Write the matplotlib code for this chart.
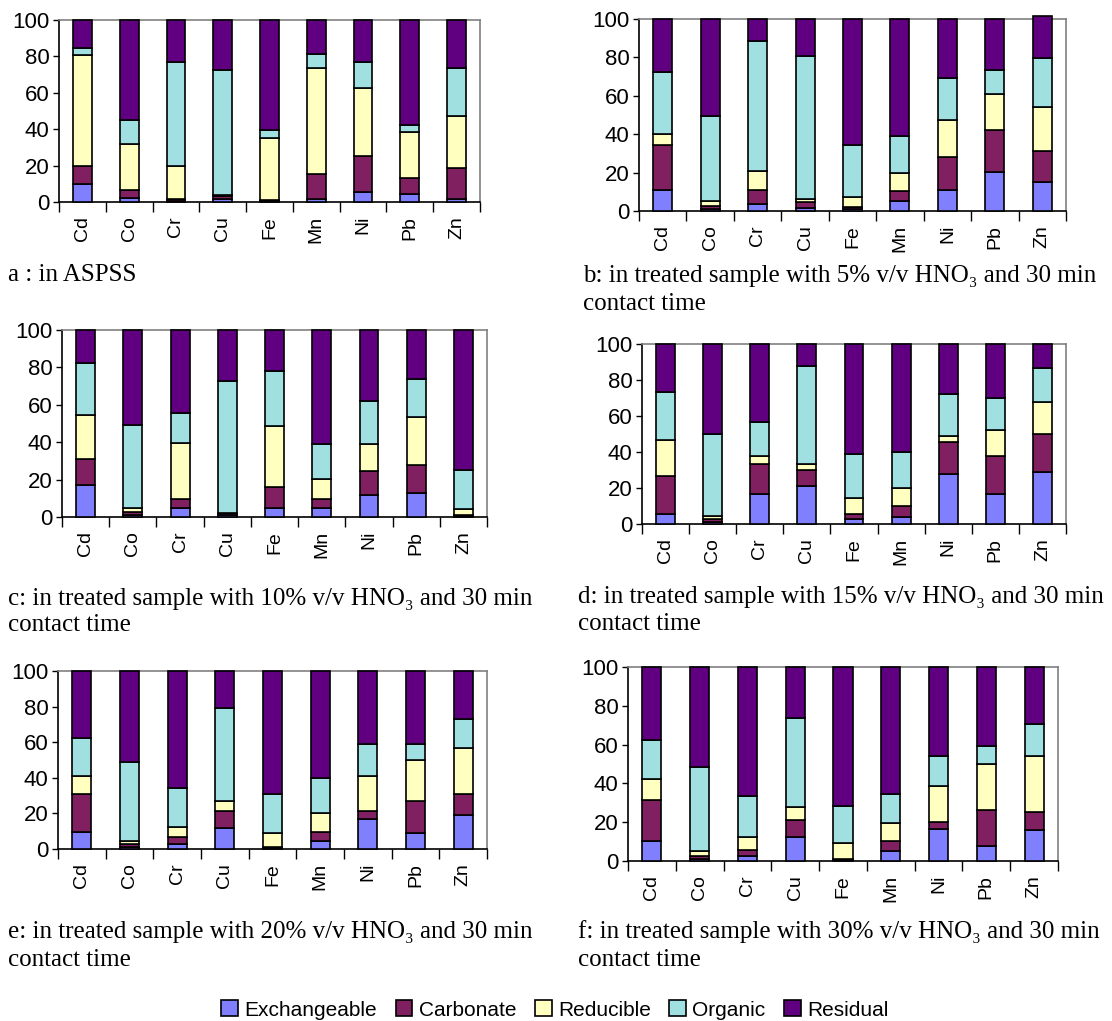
import matplotlib
matplotlib.use("Agg")
import matplotlib.pyplot as plt
import numpy as np
from matplotlib.patches import Patch

plt.rcParams['font.family'] = ['Liberation Sans', 'DejaVu Sans']

metals = ["Cd", "Co", "Cr", "Cu", "Fe", "Mn", "Ni", "Pb", "Zn"]
fractions = ["Exchangeable", "Carbonate", "Reducible", "Organic", "Residual"]
colors = ["#8080FF", "#802060", "#FFFFC0", "#A0E0E0", "#600080"]

# a : ASPSS
exch_a = [10, 2, 0.5, 1.5, 0.5, 1.6, 5.3, 4.4, 1.6]
carb_a = [10, 4.6, 1.0, 2.0, 0.7, 14, 20.2, 8.8, 16.9]
red_a = [61, 25, 18.5, 0.3, 33.8, 57.8, 37, 25.1, 28.8]
org_a = [3.5, 13.3, 56.7, 68.5, 4.6, 7.9, 14.2, 4.2, 26.1]
res_a = [15.5, 55, 23.3, 27.7, 60.4, 18.7, 23.3, 57.5, 26.6]

# b : 5% HNO3
exch_b = [10.9, 1, 3.8, 1.4, 1, 5, 10.9, 20.3, 15.3]
carb_b = [23.3, 1.5, 7.3, 3.3, 1.1, 5.2, 17.1, 22.1, 15.8]
red_b = [6.1, 2.5, 9.6, 1.5, 5.2, 9.6, 19.6, 18.7, 22.9]
org_b = [32.3, 44.7, 67.7, 74.7, 26.9, 19.4, 21.8, 12.5, 25.7]
res_b = [27.4, 50.3, 11.6, 19.1, 65.8, 60.8, 30.6, 26.4, 21.7]

# c : 10% HNO3
exch_c = [17, 1, 5, 1, 5, 5, 11.6, 12.7, 0.5]
carb_c = [14.1, 1.5, 4.5, 1, 11.1, 4.8, 12.9, 15, 0.8]
red_c = [23.4, 2.5, 30.1, 0.2, 32.8, 10.4, 14.8, 25.7, 3]
org_c = [27.6, 44, 15.8, 70.5, 29.1, 19.1, 22.7, 20.2, 21.1]
res_c = [17.9, 51, 44.6, 27.3, 22, 60.7, 38, 26.4, 74.6]

# d : 15% HNO3
exch_d = [5.6, 1.1, 16.7, 21.3, 3, 4.1, 27.8, 16.7, 28.7]
carb_d = [21.3, 1.7, 16.4, 8.7, 2.6, 5.9, 17.8, 21.1, 21.3]
red_d = [19.8, 1.8, 4.7, 3.3, 9, 10, 3.3, 14.4, 17.8]
org_d = [26.4, 45.4, 18.7, 54.5, 24.3, 19.8, 23.1, 17.6, 18.7]
res_d = [26.9, 50, 43.5, 12.2, 61.1, 60.2, 28, 30.2, 13.5]

# e : 20% HNO3
exch_e = [9.7, 1, 2.8, 11.9, 0.5, 4.3, 16.6, 9, 19]
carb_e = [21.3, 1.8, 3.9, 9.4, 0.6, 5.4, 4.7, 17.7, 12]
red_e = [10, 1.5, 5.6, 5.8, 7.9, 10.3, 19.7, 23.5, 25.9]
org_e = [21.3, 44.6, 22.2, 52.2, 22, 19.9, 18, 8.8, 16.4]
res_e = [37.7, 51.1, 65.5, 20.7, 69, 60.1, 41, 41, 26.7]

# f : 30% HNO3
exch_f = [10.1, 1, 2.7, 12.2, 0.5, 5.1, 16.3, 7.9, 16.1]
carb_f = [21.4, 1.5, 3.1, 9, 0.5, 5, 3.9, 18.5, 9.2]
red_f = [10.6, 2.5, 6.4, 6.5, 8.2, 9.4, 18.7, 23.6, 28.8]
org_f = [20.2, 43.3, 21.4, 45.8, 19.4, 15.1, 15.2, 9.2, 16.4]
res_f = [37.7, 51.7, 66.4, 26.5, 71.4, 65.4, 45.9, 40.8, 29.5]

captions = [
    "a : in ASPSS",
    "b: in treated sample with 5% v/v HNO\u2083 and 30 min|contact time",
    "c: in treated sample with 10% v/v HNO\u2083 and 30 min|contact time",
    "d: in treated sample with 15% v/v HNO\u2083 and 30 min|contact time",
    "e: in treated sample with 20% v/v HNO\u2083 and 30 min|contact time",
    "f: in treated sample with 30% v/v HNO\u2083 and 30 min|contact time",
]

panels = [
    (exch_a, carb_a, red_a, org_a, res_a),
    (exch_b, carb_b, red_b, org_b, res_b),
    (exch_c, carb_c, red_c, org_c, res_c),
    (exch_d, carb_d, red_d, org_d, res_d),
    (exch_e, carb_e, red_e, org_e, res_e),
    (exch_f, carb_f, red_f, org_f, res_f),
]

W, H = 1112, 1021
fig = plt.figure(figsize=(W / 100, H / 100), dpi=100)

# axes boxes in pixels: left, right, top, bottom
boxes = [
    (59, 480, 20, 202),
    (639, 1066, 19, 211),
    (62, 487, 330, 517),
    (642, 1066, 344, 524),
    (58, 487, 671, 849),
    (628, 1058, 667, 861),
]
# caption positions: x, baseline of line1, baseline of line2
cap_pos = [
    (8, 281, None),
    (583, 282, 310),
    (8, 605, 631),
    (578, 603, 630),
    (8, 938, 966),
    (578, 938, 966),
]
serif = ["Liberation Serif", "DejaVu Serif"]

x = np.arange(len(metals))
for (l, r, t, b), data, cap, (cx, cy1, cy2) in zip(boxes, panels, captions, cap_pos):
    ax = fig.add_axes([l / W, 1 - b / H, (r - l) / W, (b - t) / H])
    bottom = np.zeros(len(metals))
    for vals, col in zip(data, colors):
        v = np.array(vals, dtype=float)
        ax.bar(x, v, width=0.4, bottom=bottom, color=col, edgecolor="black",
               linewidth=1.2, clip_on=False, zorder=3)
        bottom += v
    ax.set_xlim(-0.5, len(metals) - 0.5)
    ax.set_ylim(0, 100)
    ax.set_yticks([0, 20, 40, 60, 80, 100])
    ax.tick_params(axis="y", labelsize=16, length=4, width=1, direction="out", pad=3)
    ax.set_xticks(x)
    ax.set_xticklabels(metals, rotation=90, fontsize=14)
    ax.set_xticks(np.arange(-0.5, len(metals), 1.0), minor=True)
    ax.tick_params(axis="x", which="major", length=0, pad=10)
    ax.tick_params(axis="x", which="minor", length=7, width=1, direction="out")
    ax.spines["left"].set_color("black")
    ax.spines["bottom"].set_color("black")
    ax.spines["top"].set_color("#808080")
    ax.spines["right"].set_color("#808080")
    for s in ax.spines.values():
        s.set_linewidth(1.2)
    lines = cap.split("|")
    fig.text(cx / W, 1 - cy1 / H, lines[0], family=serif, fontsize=18,
             ha="left", va="baseline")
    if cy2 is not None:
        fig.text(cx / W, 1 - cy2 / H, lines[1], family=serif, fontsize=18,
                 ha="left", va="baseline")

handles = [Patch(facecolor=c, edgecolor="black", linewidth=1.2, label=f) for f, c in zip(fractions, colors)]
fig.legend(handles=handles, loc="center", bbox_to_anchor=(555 / W, 1 - 1010 / H), ncol=5,
           frameon=False, fontsize=15, handlelength=0.8, handleheight=0.8,
           handletextpad=0.3, columnspacing=0.9)

fig.savefig("out.png", dpi=100)
